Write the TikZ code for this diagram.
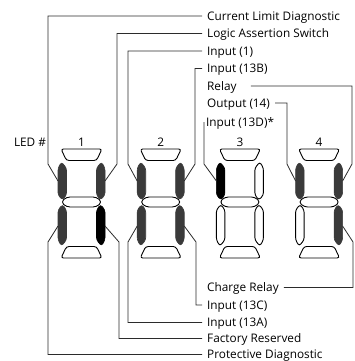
\documentclass[tikz,border=0pt]{standalone}
\usepackage{fontspec}
\setmainfont{Open Sans}
\usetikzlibrary{calc}

\definecolor{segdark}{HTML}{3A3A3A}
\definecolor{wirecol}{HTML}{2B2B2B}

\tikzset{
	lbl/.style={anchor=west, inner xsep=5pt, inner ysep=0pt, text height=8.4pt, text depth=0pt,
		font=\fontsize{11.8}{14}\selectfont},
	wire/.style={draw=wirecol, line width=0.8pt},
	segon/.style={fill=segdark, draw=segdark, line width=0.6pt},
	segblk/.style={fill=black, draw=black, line width=0.6pt},
	segoff/.style={fill=white, draw=black, line width=0.9pt},
}

\begin{document}
\begin{tikzpicture}[x=1pt, y=-1pt]
	\useasboundingbox (0,0) rectangle (355,361);

	% digits: centre x, then segments f, b, e, c
	\foreach \i/\cx/\f/\b/\e/\c in {1/81.5/segon/segon/segon/segblk,
		2/160.7/segon/segon/segon/segon,
		3/239.9/segblk/segoff/segoff/segoff,
		4/319.1/segon/segon/segoff/segon} {
		\begin{scope}[shift={(\cx,0)}]
			\node (n\i) at (0,142) {\fontsize{11.8}{14}\selectfont\i};
			% top, middle, bottom
			\path[segoff, rounded corners=2.5pt] (-20.5,149) -- (20.5,149) -- (15,160.5) -- (-15,160.5) -- cycle;
			\path[segoff, rounded corners=3.5pt] (-20.5,202) -- (-15,197) -- (15,197) -- (20.5,202) -- (15,207) -- (-15,207) -- cycle;
			\path[segoff, rounded corners=2.5pt] (-15,246.5) -- (15,246.5) -- (20.5,258) -- (-20.5,258) -- cycle;
			% upper left, upper right
			\path[\f, rounded corners=2.5pt] (-23.5,168) -- (-20,162) -- (-15,168) -- (-15,195) -- (-19,200) -- (-23.5,195) -- cycle;
			\path[\b, rounded corners=2.5pt] (23.5,168) -- (20,162) -- (15,168) -- (15,195) -- (19,200) -- (23.5,195) -- cycle;
			% lower left, lower right
			\path[\e, rounded corners=2.5pt] (-23.5,210) -- (-19,204.5) -- (-15,210) -- (-15,240) -- (-20,246) -- (-23.5,240) -- cycle;
			\path[\c, rounded corners=2.5pt] (23.5,210) -- (19,204.5) -- (15,210) -- (15,240) -- (20,246) -- (23.5,240) -- cycle;
			\coordinate (f\i) at (-23.5,181);
			\coordinate (b\i) at (23.5,181);
			\coordinate (e\i) at (-23.5,226);
			\coordinate (c\i) at (23.5,226);
		\end{scope}
	}

	\node (led) at (30,142) {\fontsize{11.8}{14}\selectfont LED \#};

	% labels above
	\node[lbl] (cld) at (202,16) {Current Limit Diagnostic};
	\node[lbl] (las) at (202,33.5) {Logic Assertion Switch};
	\node[lbl] (in1) at (202,51) {Input (1)};
	\node[lbl] (i13b) at (202,68.5) {Input (13B)};
	\node[lbl] (rly) at (202,86) {Relay};
	\node[lbl] (o14) at (202,103) {Output (14)};
	\node[lbl, inner xsep=2pt] (i13d) at (204,122) {Input (13D)*};
	% labels below
	\node[lbl] (crl) at (202,287.5) {Charge Relay};
	\node[lbl] (i13c) at (202,305) {Input (13C)};
	\node[lbl] (i13a) at (202,322.5) {Input (13A)};
	\node[lbl] (frs) at (202,338.5) {Factory Reserved};
	\node[lbl] (prd) at (202,354.5) {Protective Diagnostic};

	\draw[wire] (f1) -- (48,164) |- (cld.west);
	\draw[wire] (b1) -- (117,164) |- (las.west);
	\draw[wire] (f2) -- (128,164) |- (in1.west);
	\draw[wire] (b2) -- (195,164) |- (i13b.west);
	\draw[wire] (b4) -- (352,164) |- ($(rly.east)+(9,0)$);
	\draw[wire] (f4) -- (287,164) |- (o14.east);
	\draw[wire] (f3) -- (204,164) |- (i13d.west);

	\draw[wire] (c4) -- (353,242) |- (crl.east);
	\draw[wire] (c2) -- (196,242) |- (i13c.west);
	\draw[wire] (e2) -- (128,242) |- (i13a.west);
	\draw[wire] (c1) -- (119,242) |- (frs.west);
	\draw[wire] (e1) -- (48,242) |- (prd.west);
\end{tikzpicture}
\end{document}
